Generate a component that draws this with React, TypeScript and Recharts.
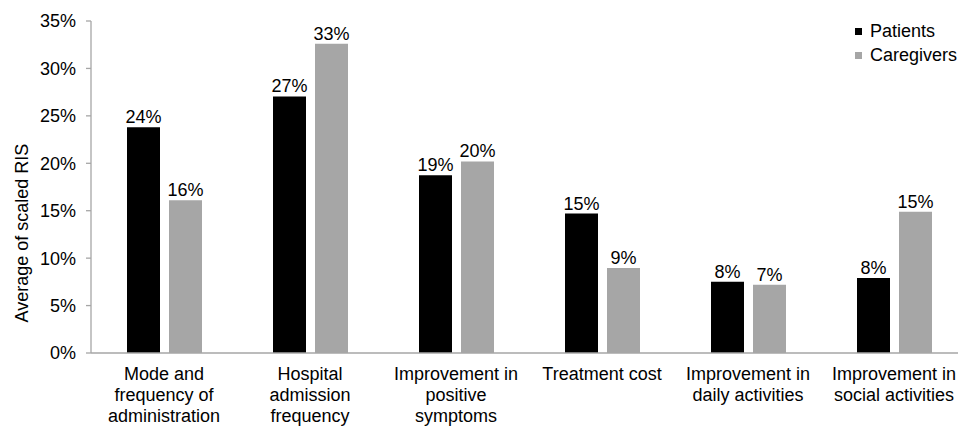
import React from "react";
import { BarChart, Bar, XAxis, YAxis, LabelList } from "recharts";

const categories = [
  "Mode and\nfrequency of\nadministration",
  "Hospital\nadmission\nfrequency",
  "Improvement in\npositive\nsymptoms",
  "Treatment cost",
  "Improvement in\ndaily activities",
  "Improvement in\nsocial activities",
];
const patients = [23.8, 27.05, 18.75, 14.7, 7.5, 7.9];
const caregivers = [16.1, 32.6, 20.2, 8.97, 7.2, 14.9];
const yTicks = [0, 5, 10, 15, 20, 25, 30, 35];
const seriesNames = ["Patients", "Caregivers"];

const data = categories.map((c, i) => ({
  name: c,
  patients: patients[i],
  caregivers: caregivers[i],
}));

const FONT = "'Liberation Sans', Arial, sans-serif";
const FS = 18;
const BLACK = "#000000";
const GRAY = "#a6a6a6";
const AXIS = "#a6a6a6";

const XTick = (props: any) => {
  const { x, y, payload } = props;
  const lines = String(payload.value).split("\n");
  return (
    <text x={x} y={y} textAnchor="middle" fontFamily={FONT} fontSize={FS} fill="#000">
      {lines.map((l: string, i: number) => (
        <tspan key={i} x={x} y={y + 27 + i * 21}>
          {l}
        </tspan>
      ))}
    </text>
  );
};

const fmt = (v: any) => `${Math.round(Number(v))}%`;

export default function App() {
  return (
    <div
      style={{
        position: "absolute",
        left: 0,
        top: 0,
        width: 958,
        height: 426,
        overflow: "hidden",
        background: "#fff",
      }}
    >
      <BarChart
        width={975}
        height={426}
        data={data}
        margin={{ top: 21, right: 8, left: 0, bottom: 0 }}
        barSize={33}
        barGap={9}
      >
        <XAxis
          dataKey="name"
          interval={0}
          height={73}
          axisLine={{ stroke: AXIS, strokeWidth: 1.3 }}
          tickLine={false}
          tickSize={0}
          tickMargin={0}
          tick={<XTick />}
        />
        <YAxis
          width={91}
          domain={[0, 35]}
          ticks={yTicks}
          interval={0}
          tickFormatter={(v: number) => `${v}%`}
          axisLine={{ stroke: AXIS, strokeWidth: 1.3 }}
          tickLine={{ stroke: AXIS, strokeWidth: 1.3 }}
          tickSize={5}
          tickMargin={10}
          tick={{ fontFamily: FONT, fontSize: FS, fill: "#000" }}
          label={{
            content: () => (
              <text
                x={28}
                y={233}
                transform="rotate(-90 28 233)"
                textAnchor="middle"
                fontFamily={FONT}
                fontSize={FS}
                fill="#000"
              >
                Average of scaled RIS
              </text>
            ),
          }}
        />
        <Bar dataKey="patients" name={seriesNames[0]} fill={BLACK} isAnimationActive={false}>
          <LabelList
            dataKey="patients"
            position="top"
            offset={4}
            formatter={fmt}
            style={{ fontFamily: FONT, fontSize: FS, fill: "#000" }}
          />
        </Bar>
        <Bar dataKey="caregivers" name={seriesNames[1]} fill={GRAY} isAnimationActive={false}>
          <LabelList
            dataKey="caregivers"
            position="top"
            offset={4}
            formatter={fmt}
            style={{ fontFamily: FONT, fontSize: FS, fill: "#000" }}
          />
        </Bar>
      </BarChart>
      <div
        style={{
          position: "absolute",
          top: 19,
          left: 855,
          fontFamily: FONT,
          fontSize: FS,
          color: "#000",
          lineHeight: "24px",
          whiteSpace: "nowrap",
        }}
      >
        {seriesNames.map((n, i) => (
          <div key={n} style={{ display: "flex", alignItems: "center" }}>
            <span
              style={{
                display: "inline-block",
                width: 7,
                height: 7,
                background: i === 0 ? BLACK : GRAY,
                marginRight: 8,
              }}
            />
            <span>{n}</span>
          </div>
        ))}
      </div>
    </div>
  );
}
